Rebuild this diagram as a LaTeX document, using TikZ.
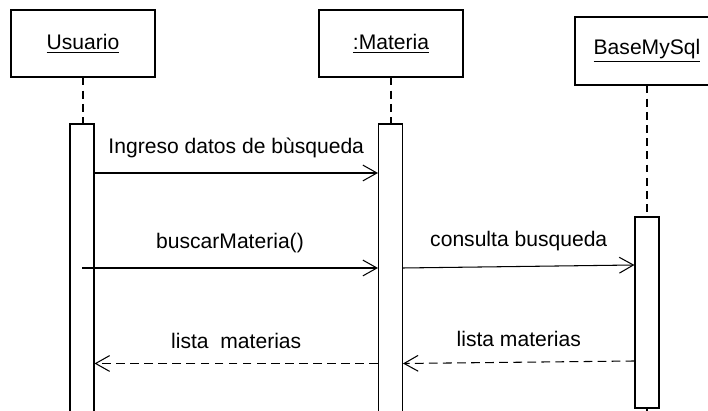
\documentclass[tikz,border=0pt]{standalone}
\usepackage{fontspec}
\setmainfont{Liberation Sans}
\usetikzlibrary{arrows.meta}

\begin{document}
\begin{tikzpicture}[x=0.02cm, y=-0.02cm,
    obj/.style={draw, line width=0.6pt, minimum width=2.88cm,
      minimum height=1.34cm, font=\fontsize{12}{14}\selectfont},
    act/.style={draw, line width=0.6pt, fill=white, inner sep=0pt,
      minimum width=0.48cm},
    life/.style={line width=0.6pt, dash pattern=on 4.5pt off 3pt},
    msg/.style={line width=0.6pt, -{Straight Barb[length=8pt, width=9pt]}},
    reply/.style={msg, dash pattern=on 5pt off 3pt},
    lbl/.style={midway, above=5pt, font=\fontsize{12}{14}\selectfont},
  ]
    \useasboundingbox (0, 0) rectangle (708, 411);
    \clip (0, 0) rectangle (708, 411);
    % objects
    \node[obj] (usr) at (83, 43.5) {\underline{Usuario}};
    \node[obj] (mat) at (391, 43.5) {\underline{:Materia}};
    \node[obj, minimum height=1.36cm] (db) at (647, 51) {\underline{BaseMySql}};
    % activations
    \node[act, minimum height=5.76cm] (uact) at (82, 268) {};
    \node[act, minimum height=5.76cm] (mact) at (390.5, 268) {};
    \node[act, minimum height=3.82cm] (dact) at (647, 312.5) {};
    % lifelines
    \draw[life] (usr.south) -- (usr.south |- uact.north);
    \draw[life] (mat.south) -- (mat.south |- mact.north);
    \draw[life] (db.south) -- (dact.north);
    \coordinate (dend) at (647, 415);
    \draw[line width=0.6pt] (dact.south) -- (dend);
    % message levels
    \coordinate (m1) at (0, 173);
    \coordinate (m2) at (0, 268);
    \coordinate (m3) at (0, 265);
    \coordinate (m4) at (0, 361);
    \coordinate (m5) at (0, 363.5);
    \draw[msg] (uact.east |- m1) -- (mact.west |- m1)
      node[lbl] {Ingreso datos de bùsqueda};
    \draw[msg] (uact.center |- m2) -- (mact.west |- m2)
      node[lbl] {buscarMateria()};
    \draw[msg] (mact.east |- m2) -- (dact.west |- m3)
      node[lbl] {consulta busqueda};
    \draw[reply] (dact.west |- m4) -- (mact.east |- m5)
      node[lbl] {lista materias};
    \draw[reply] (mact.west |- m5) -- (uact.east |- m5)
      node[lbl] {lista\ \ materias};
  \end{tikzpicture}
\end{document}
